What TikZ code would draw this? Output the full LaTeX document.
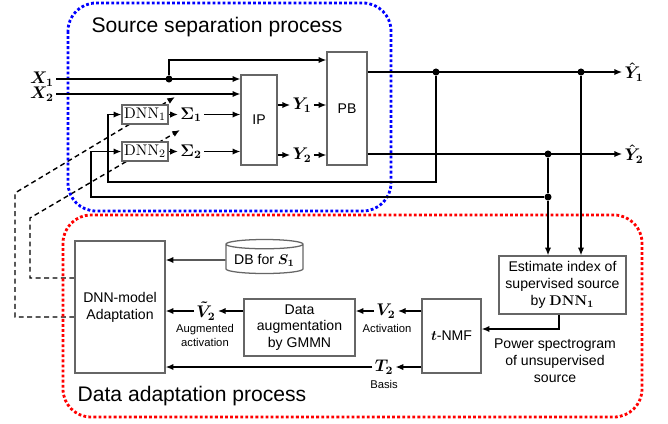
\documentclass[tikz,border=0pt]{standalone}
\usepackage{amsmath,bm}
\usepackage[no-math]{fontspec}
\setmainfont{Liberation Sans}
\usetikzlibrary{shapes.geometric,arrows.meta,backgrounds}

\begin{document}
\begin{tikzpicture}[x=0.025cm,y=-0.025cm,
        block/.style={draw=black!60,line width=0.9pt,fill=white,align=center,inner sep=2pt},
        dnn/.style={block,font=\fontsize{11}{13}\selectfont,minimum width=1.15cm,minimum height=0.475cm,inner sep=1pt},
        small/.style={font=\fontsize{8}{10}\selectfont,align=center,inner sep=0pt},
        sym/.style={font=\large,inner sep=1.5pt},
        dot/.style={circle,fill,inner sep=0pt,minimum size=5pt},
        wire/.style={line width=1pt,-{Latex[length=5.5pt,width=4.5pt]}},
        adapt/.style={line width=1pt,dash pattern=on 3.5pt off 2.5pt,-{Latex[length=5.5pt,width=4.5pt]}},
        frame/.style={line width=2pt,dash pattern=on 2pt off 1.6pt,rounded corners=0.7cm}]
    \useasboundingbox (0,0) rectangle (668,423);

    % process frames
    \draw[frame,blue] (68,3) rectangle (391,211);
    \draw[frame,red] (63,215) rectangle (642,417);
    \node[anchor=base,font=\fontsize{15}{18}\selectfont] (sepTitle) at (217,32) {Source separation process};
    \node[anchor=base,font=\fontsize{15}{18}\selectfont] (adaTitle) at (192,401) {Data adaptation process};

    % source separation
    \node[sym] (X1) at (42,79) {$\bm{X_1}$};
    \node[sym] (X2) at (42,94) {$\bm{X_2}$};
    \node[block,minimum width=0.9cm,minimum height=2.25cm] (IP) at (259,120) {IP};
    \node[block,minimum width=1cm,minimum height=2.825cm] (PB) at (347,108.5) {PB};
    \node[dnn] (DNN1) at (145,114.5) {$\mathrm{DNN}_1$};
    \node[dnn] (DNN2) at (145,151.5) {$\mathrm{DNN}_2$};
    \node[sym] (S1) at (191,114.5) {$\mathbf{\Sigma_1}$};
    \node[sym] (S2) at (191,151.5) {$\mathbf{\Sigma_2}$};
    \node[sym] (Y1) at (302,105) {$\bm{Y_1}$};
    \node[sym] (Y2) at (302,155) {$\bm{Y_2}$};
    \node[sym] (Yh1) at (634,72) {$\bm{\hat{Y}_1}$};
    \node[sym] (Yh2) at (634,154) {$\bm{\hat{Y}_2}$};

    \node[dot] (d1) at (169,79) {};
    \node[dot] (d2) at (436,72) {};
    \node[dot] (d3) at (548,154) {};
    \node[dot] (d4) at (548,197) {};
    \node[dot] (d5) at (581,72) {};

    \draw[wire] (X1) -- (X1 -| IP.west);
    \draw[wire] (X2) -- (X2 -| IP.west);
    \draw[wire] (d1) |- (PB.west |- 0,60);
    \draw[wire] (DNN1) -- (S1);
    \draw[wire] (DNN2) -- (S2);
    \draw[wire] (S1) -- (S1 -| IP.west);
    \draw[wire] (S2) -- (S2 -| IP.west);
    \draw[wire] (IP.east |- Y1) -- (Y1);
    \draw[wire] (IP.east |- Y2) -- (Y2);
    \draw[wire] (Y1) -- (Y1 -| PB.west);
    \draw[wire] (Y2) -- (Y2 -| PB.west);
    \draw[wire] (PB.east |- Yh1) -- (Yh1);
    \draw[wire] (PB.east |- Yh2) -- (Yh2);

    % feedback to the DNNs
    \draw[wire] (d2) |- (108,182) |- (DNN1);
    \draw[wire] (d4) -- (91,197) |- (DNN2);

    % data adaptation
    \node[block,minimum width=3.175cm,minimum height=1.45cm] (Est) at (562.5,285) {Estimate index of\\supervised source\\by $\mathbf{DNN_1}$};
    \node[block,minimum width=1.475cm,minimum height=1.85cm] (tNMF) at (451.5,336) {$\bm{t}$-NMF};
    \node[align=center,inner sep=0pt] (pwr) at (555,361) {Power spectrogram\\of unsupervised\\source};
    \node[block,minimum width=2.775cm,minimum height=1.425cm] (Aug) at (299.5,327.5) {Data\\augmentation\\by GMMN};
    \node[block,minimum width=2.25cm,minimum height=3.3cm] (Model) at (120,307) {DNN-model\\Adaptation};
    \node[block,cylinder,shape border rotate=90,aspect=0.14,inner ysep=0pt,minimum width=1.925cm,minimum height=0.85cm] (DB) at (264.5,260) {DB for $\bm{S_1}$};

    \node[sym] (V2) at (386,311) {$\bm{V_2}$};
    \node[small] (actLbl) at (387,328) {Activation};
    \node[sym] (T2) at (384,367) {$\bm{T_2}$};
    \node[small] (basisLbl) at (384,384) {Basis};
    \node[sym] (Vt) at (206,311) {$\bm{\tilde{V}_2}$};
    \node[small] (augLbl) at (205,335) {Augmented\\activation};

    \draw[wire] (d3) -- (d4) -- (d4 |- Est.north);
    \draw[wire] (d5) -- (d5 |- Est.north);
    \draw[wire] (Est.south -| 559,0) |- (tNMF.east |- 0,329);
    \draw[wire] (tNMF.west |- V2) -- (V2);
    \draw[wire] (V2) -- (V2 -| Aug.east);
    \draw[wire] (Aug.west |- Vt) -- (Vt);
    \draw[wire] (Vt) -- (Vt -| Model.east);
    \draw[wire] (tNMF.west |- T2) -- (T2);
    \draw[wire] (T2) -- (T2 -| Model.east);
    \draw[wire] (DB) -- (DB -| Model.east);

    % adaptation of the DNNs
    \coordinate (tip1) at (175,97);
    \coordinate (tip2) at (180,130);
    \begin{scope}[on background layer]
        \draw[adapt] (Model.west |- 0,317) -| (15,193) -- (tip1);
        \draw[adapt] (Model.west |- 0,278) -| (30,218) -- (tip2);
    \end{scope}
\end{tikzpicture}
\end{document}
